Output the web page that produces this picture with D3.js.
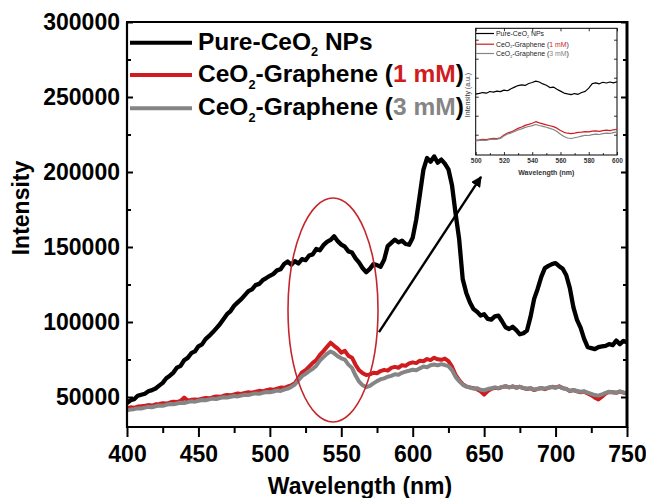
<!DOCTYPE html>
<html><head><meta charset="utf-8">
<script src="https://cdn.jsdelivr.net/npm/d3@7"></script>
<style>html,body{margin:0;padding:0;background:#fff;} svg{display:block;font-family:"Liberation Sans",Arial,Helvetica,sans-serif;}</style>
</head><body><svg id="chart" width="646" height="498"></svg>
<script>
// ---------- data ----------
const wavelength = [400,402.5,405,407.5,410,412.5,415,417.5,420,422.5,425,427.5,430,432.5,435,437.5,440,442.5,445,447.5,450,452.5,455,457.5,460,462.5,465,467.5,470,472.5,475,477.5,480,482.5,485,487.5,490,492.5,495,497.5,500,502.5,505,507.5,510,512.5,515,517.5,520,522.5,525,527.5,530,532.5,535,537.5,540,542.5,545,547.5,550,552.5,555,557.5,560,562.5,565,567.5,570,572.5,575,577.5,580,582.5,585,587.5,590,592.5,595,597.5,600,602.5,605,607.5,610,612.5,615,617.5,620,622.5,625,627.5,630,632.5,635,637.5,640,642.5,645,647.5,650,652.5,655,657.5,660,662.5,665,667.5,670,672.5,675,677.5,680,682.5,685,687.5,690,692.5,695,697.5,700,702.5,705,707.5,710,712.5,715,717.5,720,722.5,725,727.5,730,732.5,735,737.5,740,742.5,745,747.5,750];
const pureCeO2 = [
46000,47800,48500,50800,51500,52200,53800,54600,55700,57600,
59400,62500,64200,66300,69600,70800,74500,76100,79200,80400,
83800,85100,88600,90700,93100,95800,98500,101900,105200,107300,
110800,113100,115200,117900,120600,121800,124600,125400,127900,129300,
130800,132100,134400,135200,138600,140300,138200,140600,139000,141900,
141200,144300,145100,148700,147800,151200,153400,154700,157200,153900,
151600,150200,147100,146300,142400,139600,135800,133200,135400,138600,
137900,136800,141500,150600,152800,154900,153100,154200,152000,151500,
156200,168400,184900,201600,209300,206800,210400,206200,208300,205600,
201800,191200,172400,155300,128600,119400,113200,108600,106900,104300,
105200,102100,101600,103800,104300,100500,96500,95300,96800,94600,
91800,92500,94300,103600,115400,122200,130100,135900,137400,138600,
139300,137200,135500,131200,122600,109800,101400,96200,88700,83200,
82600,81900,83300,83800,84100,85300,84600,87600,85200,87400,
86500];
const graphene1mM = [
42600,43100,42800,43600,43900,44200,44600,44300,45100,45400,
45800,45600,46300,46900,46700,47300,49600,47600,48100,48400,
48200,48900,49300,49100,49800,50300,50100,50800,51400,51100,
51700,52300,52000,52700,53200,52900,53600,54100,53800,54500,
55100,54800,55600,56300,56100,57000,57800,59200,62600,66400,
67900,70300,72800,74600,78100,80600,83400,86200,84100,82300,
79600,80800,77400,76200,71500,67800,65900,64600,65100,66200,
65800,67300,68100,67600,69400,70100,69500,71200,70800,72400,
73100,72600,74200,73800,75300,74600,76200,75100,74800,75600,
73900,70200,64800,61200,58600,57100,56400,55900,55200,53800,
51600,53900,55400,56100,55800,56600,57200,56400,57100,56200,
56800,55900,55300,55800,54600,55400,55900,55200,56100,56800,
56300,57100,55900,55400,53900,54600,53800,53200,53600,52400,
51200,49600,48400,50200,52300,53400,53100,52800,53600,52900,
52300];
const graphene3mM = [
41200,41600,41900,42400,42300,42900,43400,43200,43800,44300,
44100,44800,45300,45100,45700,46200,46000,46600,47100,46900,
47500,48000,47800,48400,48900,48700,49300,49800,49600,50200,
50700,50400,51000,51500,51300,51900,52400,52100,52800,53300,
53100,53700,54300,54000,54900,55600,56700,58300,61200,63900,
65400,67200,68800,70900,74300,76600,78800,80400,79100,77200,
75800,74900,71600,69400,64300,60200,57800,56600,57400,59100,
60600,61800,62400,63500,64100,65200,64800,66100,66900,67500,
68200,67800,69100,70300,69800,71200,71700,71100,71900,71300,
70600,67900,63400,60600,58200,56900,56300,55600,55900,54800,
54500,55300,55800,56400,55900,56700,57100,56500,56900,56300,
56800,56100,55500,55900,54900,55500,56000,55600,56300,56700,
56200,56900,55800,55300,54200,54700,54000,53500,53800,52900,
52100,51300,50900,51700,52800,53500,53200,52900,53700,53100,
52600];
const xTicks = [400,450,500,550,600,650,700,750];
const xMinorTicks = [425,475,525,575,625,675,725];
const yTicks = [50000,100000,150000,200000,250000,300000];
const yMinorTicks = [75000,125000,175000,225000,275000];

// inset (zoom of 500–600 nm, arbitrary units)
const insetWavelength = [500,502.5,505,507.5,510,512.5,515,517.5,520,522.5,525,527.5,530,532.5,535,537.5,540,542.5,545,547.5,550,552.5,555,557.5,560,562.5,565,567.5,570,572.5,575,577.5,580,582.5,585,587.5,590,592.5,595,597.5,600];
const insetPure = [48.0,48.6,49.3,48.8,50.1,49.6,50.4,50.0,51.2,50.7,52.3,53.6,54.8,55.3,54.9,56.4,57.2,58.3,57.6,56.1,55.0,53.2,53.6,51.9,50.4,48.9,48.2,47.6,48.5,47.9,49.3,50.2,52.8,56.3,56.9,56.2,57.4,56.8,57.6,56.9,57.8];
const insetG1 = [11.6,11.9,12.3,12.1,12.8,13.1,12.9,13.6,15.8,17.4,18.2,19.6,21.0,22.1,23.4,24.2,25.1,26.3,25.4,24.6,23.8,23.1,22.4,21.2,19.3,17.9,17.2,16.9,17.3,17.8,18.1,18.5,18.2,18.8,19.1,18.7,19.3,19.6,19.2,19.9,20.3];
const insetG3 = [11.1,11.5,11.8,11.6,12.3,12.6,12.4,13.1,15.1,16.6,17.3,18.6,19.7,20.6,21.8,22.5,23.2,24.1,23.3,22.6,21.9,21.0,20.1,18.6,16.4,14.6,13.4,13.0,13.6,14.2,14.9,15.6,15.4,16.1,16.5,16.2,16.9,17.3,17.0,17.7,18.2];
const insetXTicks = [500,520,540,560,580,600];
const insetXMinorTicks = [510,530,550,570,590];
const insetYTicks = [16,31,46,61,76,91];

const seriesNames = ["Pure-CeO2 NPs","CeO2-Graphene (1 mM)","CeO2-Graphene (3 mM)"];
const colors = {black:"#000000", red:"#d01c1f", gray:"#858585"};

// ---------- layout ----------
const svg = d3.select("#chart");
const W = 646, H = 498;
const m = {left:127, right:627, top:22, bottom:427};
const x = d3.scaleLinear().domain([400,750]).range([m.left, m.right]);
const y = d3.scaleLinear().domain([30000,300000]).range([m.bottom, m.top]);

svg.append("rect").attr("width",W).attr("height",H).attr("fill","#fff");

svg.append("defs").append("clipPath").attr("id","plotclip")
  .append("rect").attr("x",m.left).attr("y",m.top).attr("width",m.right-m.left).attr("height",m.bottom-m.top);

const line = d3.line().x((d,i)=>x(wavelength[i])).y(d=>y(d));
const plot = svg.append("g").attr("clip-path","url(#plotclip)");
[[pureCeO2,colors.black,4.3],[graphene1mM,colors.red,4],[graphene3mM,colors.gray,4]].forEach(([s,c,w])=>{
  plot.append("path").datum(s).attr("d",line).attr("fill","none")
    .attr("stroke",c).attr("stroke-width",w).attr("stroke-linejoin","round").attr("stroke-linecap","round");
});

// axes
const fontMain = "bold 23px 'Liberation Sans', Arial, sans-serif";
const gx = svg.append("g").attr("transform",`translate(0,${m.bottom})`)
  .call(d3.axisBottom(x).tickValues(xTicks).tickSize(10).tickPadding(9).tickFormat(d3.format("d")));
svg.append("g").attr("transform",`translate(0,${m.bottom})`)
  .call(d3.axisBottom(x).tickValues(xMinorTicks).tickSize(6).tickFormat(""));
const gy = svg.append("g").attr("transform",`translate(${m.left},0)`)
  .call(d3.axisLeft(y).tickValues(yTicks).tickSize(-6).tickPadding(7).tickFormat(d3.format("d")));
svg.append("g").attr("transform",`translate(${m.left},0)`)
  .call(d3.axisLeft(y).tickValues(yMinorTicks).tickSize(-4).tickFormat(""));
svg.append("g").attr("transform",`translate(${m.right},0)`)
  .call(d3.axisRight(y).tickValues(yTicks).tickSize(-6).tickFormat(""));
svg.append("g").attr("transform",`translate(${m.right},0)`)
  .call(d3.axisRight(y).tickValues(yMinorTicks).tickSize(-4).tickFormat(""));
svg.selectAll(".domain").remove();
svg.selectAll(".tick line").attr("stroke","#000").attr("stroke-width",2);
gx.selectAll("text").style("font",fontMain).attr("fill","#000");
gy.selectAll("text").style("font",fontMain).attr("fill","#000");

// frame
svg.append("line").attr("x1",m.left).attr("x2",m.left).attr("y1",m.top).attr("y2",m.bottom+1).attr("stroke","#000").attr("stroke-width",2.2);
svg.append("line").attr("x1",m.left-1).attr("x2",m.right+1).attr("y1",m.bottom).attr("y2",m.bottom).attr("stroke","#000").attr("stroke-width",2.2);
svg.append("line").attr("x1",m.left-1).attr("x2",m.right+1).attr("y1",m.top).attr("y2",m.top).attr("stroke","#000").attr("stroke-width",2.2);
svg.append("line").attr("x1",m.right).attr("x2",m.right).attr("y1",m.top-1).attr("y2",m.bottom+1).attr("stroke","#000").attr("stroke-width",3);

// axis titles
svg.append("text").attr("x",360).attr("y",494).attr("text-anchor","middle")
  .style("font",fontMain).text("Wavelength (nm)");
svg.append("text").attr("transform","translate(29,208) rotate(-90)").attr("text-anchor","middle")
  .style("font",fontMain).text("Intensity");

// annotations: ellipse and arrow (data coordinates)
const ellipse = {cx:544.2, cy:108000, rxNm:31.5, ryInt:74700};
svg.append("ellipse")
  .attr("cx",x(ellipse.cx)).attr("cy",y(ellipse.cy))
  .attr("rx",x(ellipse.cx+ellipse.rxNm)-x(ellipse.cx))
  .attr("ry",y(ellipse.cy-ellipse.ryInt)-y(ellipse.cy))
  .attr("fill","none").attr("stroke","#c4262b").attr("stroke-width",1.6);
const arrow = {from:[576.4,93300], to:[647.8,196700]};
svg.append("defs").append("marker").attr("id","ah").attr("viewBox","0 0 10 10")
  .attr("refX",9).attr("refY",5).attr("markerWidth",4.5).attr("markerHeight",4.5).attr("orient","auto")
  .append("path").attr("d","M0,0 L10,5 L0,10 z").attr("fill","#000");
svg.append("line").attr("x1",x(arrow.from[0])).attr("y1",y(arrow.from[1]))
  .attr("x2",x(arrow.to[0])).attr("y2",y(arrow.to[1]))
  .attr("stroke","#000").attr("stroke-width",2.4).attr("marker-end","url(#ah)");

// rich text helper
function richText(g, tx, ty, size, parts, weight){
  const t = g.append("text").attr("x",tx).attr("y",ty)
    .style("font-size",size+"px").style("font-weight",weight||"bold").attr("fill","#000");
  let shift = 0;
  parts.forEach(p=>{
    const sp = t.append("tspan").text(p.t);
    if(p.sub){ sp.style("font-size",(size*0.52)+"px").attr("dy",size*0.28); shift = size*0.28; }
    else if(shift){ sp.attr("dy",-shift); shift = 0; }
    if(p.fill) sp.attr("fill",p.fill);
  });
  return t;
}
function legendParts(i){
  if(i===0) return [{t:"Pure-CeO"},{t:"2",sub:true},{t:" NPs"}];
  if(i===1) return [{t:"CeO"},{t:"2",sub:true},{t:"-Graphene ("},{t:"1 mM",fill:colors.red},{t:")"}];
  return [{t:"CeO"},{t:"2",sub:true},{t:"-Graphene ("},{t:"3 mM",fill:colors.gray},{t:")"}];
}

// main legend
const legColors = [colors.black, colors.red, colors.gray];
const legY = [42.7, 75, 108.3];
const leg = svg.append("g");
legColors.forEach((c,i)=>{
  leg.append("line").attr("x1",130).attr("x2",192).attr("y1",legY[i]).attr("y2",legY[i])
    .attr("stroke",c).attr("stroke-width",4);
  richText(leg, 198, legY[i]+6.8, 24.5, legendParts(i));
});

// ---------- inset ----------
const ix = d3.scaleLinear().domain([500,600]).range([475.7,617]);
const iy = d3.scaleLinear().domain([0,100]).range([155,28.3]);
const inset = svg.append("g");
inset.append("rect").attr("x",ix.range()[0]).attr("y",iy.range()[1])
  .attr("width",ix.range()[1]-ix.range()[0]).attr("height",iy.range()[0]-iy.range()[1])
  .attr("fill","#fff").attr("stroke","#000").attr("stroke-width",1);
const iline = d3.line().x((d,i)=>ix(insetWavelength[i])).y(d=>iy(d));
[[insetPure,colors.black],[insetG1,colors.red],[insetG3,colors.gray]].forEach(([s,c])=>{
  inset.append("path").datum(s).attr("d",iline).attr("fill","none")
    .attr("stroke",c).attr("stroke-width",1.2).attr("stroke-linejoin","round");
});
const ixa = inset.append("g").attr("transform",`translate(0,${iy.range()[0]})`)
  .call(d3.axisBottom(ix).tickValues(insetXTicks).tickSize(-3).tickPadding(3).tickFormat(d3.format("d")));
inset.append("g").attr("transform",`translate(0,${iy.range()[0]})`)
  .call(d3.axisBottom(ix).tickValues(insetXMinorTicks).tickSize(-2).tickFormat(""));
inset.append("g").attr("transform",`translate(0,${iy.range()[1]})`)
  .call(d3.axisTop(ix).tickValues(insetXTicks).tickSize(-3).tickFormat(""));
inset.append("g").attr("transform",`translate(${ix.range()[0]},0)`)
  .call(d3.axisLeft(iy).tickValues(insetYTicks).tickSize(-3).tickFormat(""));
inset.append("g").attr("transform",`translate(${ix.range()[1]},0)`)
  .call(d3.axisRight(iy).tickValues(insetYTicks).tickSize(-3).tickFormat(""));
inset.selectAll(".domain").remove();
inset.selectAll(".tick line").attr("stroke","#000").attr("stroke-width",0.8);
ixa.selectAll("text").style("font","bold 6.5px 'Liberation Sans', Arial, sans-serif").attr("fill","#333");
inset.append("text").attr("x",(ix.range()[0]+ix.range()[1])/2).attr("y",174.5).attr("text-anchor","middle")
  .style("font","bold 7px 'Liberation Sans', Arial, sans-serif").attr("fill","#333").text("Wavelength (nm)");
inset.append("text").attr("transform","translate(469.5,95) rotate(-90)").attr("text-anchor","middle")
  .style("font","7px 'Liberation Sans', Arial, sans-serif").attr("fill","#333").text("Intensity (a.u.)");
const ilegY = [33.5, 44.2, 53.5];
legColors.forEach((c,i)=>{
  inset.append("line").attr("x1",476).attr("x2",494).attr("y1",ilegY[i]).attr("y2",ilegY[i])
    .attr("stroke",c).attr("stroke-width",1.2);
  richText(inset, 496, ilegY[i]+2.3, 6.9, legendParts(i), "normal").attr("fill","#222");
});
</script></body></html>
